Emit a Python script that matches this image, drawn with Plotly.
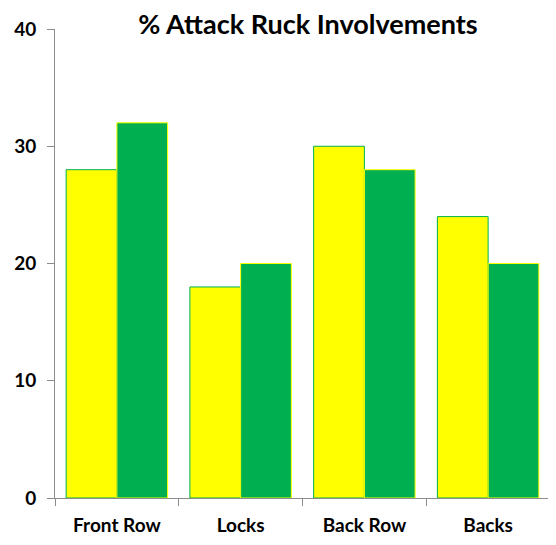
import plotly.graph_objects as go

categories = ["Front Row", "Locks", "Back Row", "Backs"]
series_a = [28, 18, 30, 24]   # yellow
series_b = [32, 20, 28, 20]   # green
y_ticks = [0, 10, 20, 30, 40]

yellow = "#FFFF00"
green = "#00B050"

fig = go.Figure()
fig.add_trace(go.Bar(x=categories, y=series_a, marker=dict(color=yellow, line=dict(color=green, width=1))))
fig.add_trace(go.Bar(x=categories, y=series_b, marker=dict(color=green, line=dict(color=yellow, width=1))))

# faint dashes along the right page edge (background pattern)
for i in range(17):
    fy = 31 + i * 31.6 - 8
    py = (490 - fy) / 469
    fig.add_shape(type="line", xref="paper", yref="paper", x0=1.0, x1=1 + 6/498,
                  y0=py, y1=py, line=dict(color="#d9d9d9", width=1))

fig.update_layout(
    width=548, height=537,
    margin=dict(l=44, r=6, t=21, b=47),
    plot_bgcolor="white", paper_bgcolor="white",
    showlegend=False,
    barmode="group", bargap=0.18, bargroupgap=0,
    font=dict(family="Lato", color="black"),
    title=dict(text="<b>% Attack Ruck Involvements</b>", x=300/548, xanchor="center",
               y=1 - 17/537, yanchor="middle",
               font=dict(size=27, family="Lato", color="black")),
    xaxis=dict(showline=True, linecolor="#8c8c8c", linewidth=1, ticks="outside",
               tickson="boundaries", ticklen=7, tickcolor="#8c8c8c", ticklabelstandoff=10,
               tickfont=dict(size=19, family="Lato", weight="bold"), showgrid=False),
    yaxis=dict(range=[0, 40], tickvals=y_ticks, showline=True, linecolor="#8c8c8c", linewidth=1,
               ticks="outside", ticklen=7, tickcolor="#8c8c8c", showgrid=False, zeroline=False,
               ticklabelstandoff=7,
               tickfont=dict(size=19, family="Lato", weight="bold")),
)

fig.write_html("out.html")
